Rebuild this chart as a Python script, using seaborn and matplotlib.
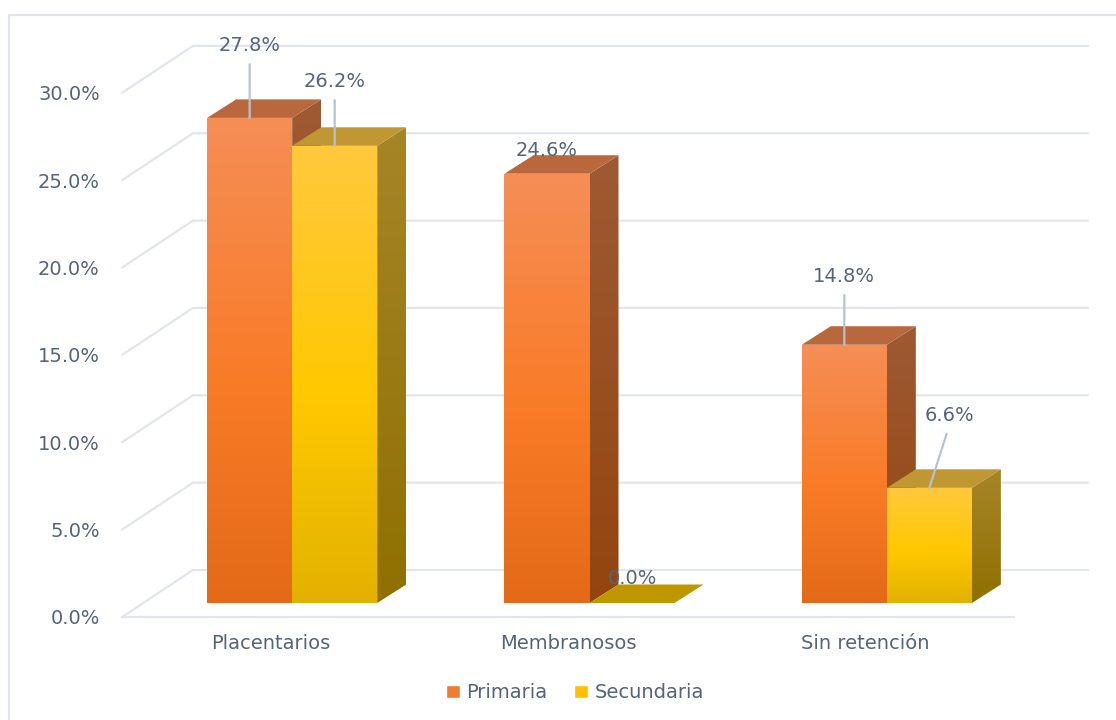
import numpy as np
import pandas as pd
import matplotlib
matplotlib.use("Agg")
import matplotlib.pyplot as plt
from matplotlib.colors import LinearSegmentedColormap
from matplotlib.lines import Line2D
from matplotlib.patches import Polygon
import seaborn as sns

categories = ["Placentarios", "Membranosos", "Sin retención"]
primaria = [27.8, 24.6, 14.8]
secundaria = [26.2, 0.0, 6.6]
series_names = ["Primaria", "Secundaria"]
y_ticks = [0, 5, 10, 15, 20, 25, 30]
y_tick_labels = ["0.0%", "5.0%", "10.0%", "15.0%", "20.0%", "25.0%", "30.0%"]
label_offsets = [(0, 72), (0, 23), (0, 68), (0, 64), (0, 25), (20, 72)]
has_leader = [True, False, True, True, False, True]

W, H = 1116, 720
TEXT = "#55647B"
GRID = "#E2E6EC"
LEADER = "#B4C3D3"
WALL_PX_PER_PCT = 17.47
BAR_PX_PER_PCT = 17.45
PX_PER_CAT = 892 / 3
FS = 14

sns.set_theme(style="white")
plt.rcParams["font.family"] = ["DejaVu Sans"]

df = pd.DataFrame({
    "cat": categories * 2,
    "serie": [series_names[0]] * 3 + [series_names[1]] * 3,
    "val": primaria + secundaria,
})

fig = plt.figure(figsize=(W / 100, H / 100), dpi=100, facecolor="white")


def axes_at(left, baseline, scale):
    return fig.add_axes([left / W, (H - baseline) / H, 892 / W, 30 * scale / H])


# Frame
fig.add_artist(Line2D([9 / W, 9 / W, 1], [0, 1 - 15 / H, 1 - 15 / H], color=GRID, lw=1.6))

# Wall / floor axes
wall = axes_at(122, 617, WALL_PX_PER_PCT)
wall.set_xlim(-0.5, 2.5)
wall.set_ylim(0, 30)
wall.set_xticks(range(3))
wall.set_xticklabels(categories, color=TEXT, fontsize=FS)
wall.set_yticks(y_ticks)
wall.set_yticklabels(y_tick_labels, color=TEXT, fontsize=FS)
wall.tick_params(axis="x", length=0, pad=12)
wall.tick_params(axis="y", length=0, pad=16)
wall.patch.set_visible(False)
sns.despine(ax=wall, left=True, right=True, top=True)
wall.spines["bottom"].set_color(GRID)
wall.spines["bottom"].set_linewidth(1.6)
wx = 71 / PX_PER_CAT
wy = 47 / WALL_PX_PER_PCT
xright = (1088 - 122) / PX_PER_CAT - 0.5
for v in y_ticks:
    wall.plot([-0.5, -0.5 + wx, xright], [v, v + wy, v + wy], color=GRID, lw=1.6,
              clip_on=False, solid_joinstyle="miter")

# Bars axes (same scales, moved onto the floor)
ax = axes_at(143.5, 603, BAR_PX_PER_PCT)
ax.patch.set_visible(False)
sns.barplot(data=df, x="cat", y="val", hue="serie", order=categories, hue_order=series_names,
            palette=["#ED7D31", "#FFC000"], width=0.572, gap=0, dodge=True, saturation=1,
            errorbar=None, ax=ax)
ax.set_xlim(-0.5, 2.5)
ax.set_ylim(0, 30)

front = {
    0: LinearSegmentedColormap.from_list("f0", [(0, "#E46A18"), (0.45, "#F97B27"), (1, "#F58E56")]),
    1: LinearSegmentedColormap.from_list("f1", [(0, "#E3B200"), (0.45, "#FFC800"), (1, "#FFC83D")]),
}
side = {
    0: LinearSegmentedColormap.from_list("s0", ["#94450F", "#9E5A33"]),
    1: LinearSegmentedColormap.from_list("s1", ["#8F7000", "#A68528"]),
}
top_colors = {0: "#B9683D", 1: "#C09733"}
zero_top = "#BF9800"
dx = 29 / PX_PER_CAT
dy = 18.5 / BAR_PX_PER_PCT
grad = np.linspace(1, 0, 128).reshape(-1, 1)


def fill(poly, cmap, z):
    xs = [p[0] for p in poly]
    ys = [p[1] for p in poly]
    im = ax.imshow(grad, extent=[min(xs), max(xs), min(ys), max(ys)], aspect="auto", cmap=cmap,
                   vmin=0, vmax=1, zorder=z, interpolation="bilinear")
    im.set_clip_path(Polygon(poly, closed=True, transform=ax.transData))


z = 3
bars = []
for i, container in enumerate(ax.containers[:2]):
    for j, rect in enumerate(container):
        bars.append((j, i, rect))
bars.sort(key=lambda b: (b[0], b[1]))

for j, i, rect in bars:
    x0, w, h = rect.get_x(), rect.get_width(), rect.get_height()
    x1 = x0 + w
    rect.set_zorder(1)
    rect.set_edgecolor("none")
    rect.set_linewidth(0)
    if h > 0:
        fill([(x1, 0), (x1 + dx, dy), (x1 + dx, h + dy), (x1, h)], side[i], z)
        z += 1
    color = top_colors[i] if h > 0 else zero_top
    ax.add_patch(Polygon([(x0, h), (x1, h), (x1 + dx, h + dy), (x0 + dx, h + dy)], closed=True,
                         facecolor=color, edgecolor="none", zorder=z))
    z += 1
    if h > 0:
        fill([(x0, 0), (x1, 0), (x1, h), (x0, h)], front[i], z)
        z += 1

# Data labels
rects = [r for c in ax.containers[:2] for r in c]
for n, rect in enumerate(rects):
    value = rect.get_height()
    props = None
    if has_leader[n]:
        props = dict(arrowstyle="-", color=LEADER, lw=1.6, shrinkA=4, shrinkB=0, relpos=(0.5, 0))
    ax.annotate(f"{value:.1f}%", xy=(rect.get_x() + rect.get_width() / 2, value), xycoords="data",
                xytext=label_offsets[n], textcoords="offset pixels", ha="center", va="center",
                color=TEXT, fontsize=FS, arrowprops=props, zorder=100, annotation_clip=False)

ax.set_xlim(-0.5, 2.5)
ax.set_ylim(0, 30)
ax.set_axis_off()

sns.move_legend(ax, "center", bbox_to_anchor=(575 / W, 1 - 693 / H), bbox_transform=fig.transFigure,
                ncol=2, frameon=False, title=None, fontsize=FS, handlelength=0.7, handleheight=0.6,
                handletextpad=0.36, columnspacing=1.35, labelcolor=TEXT)

fig.savefig("out.png", dpi=100, facecolor="white")
